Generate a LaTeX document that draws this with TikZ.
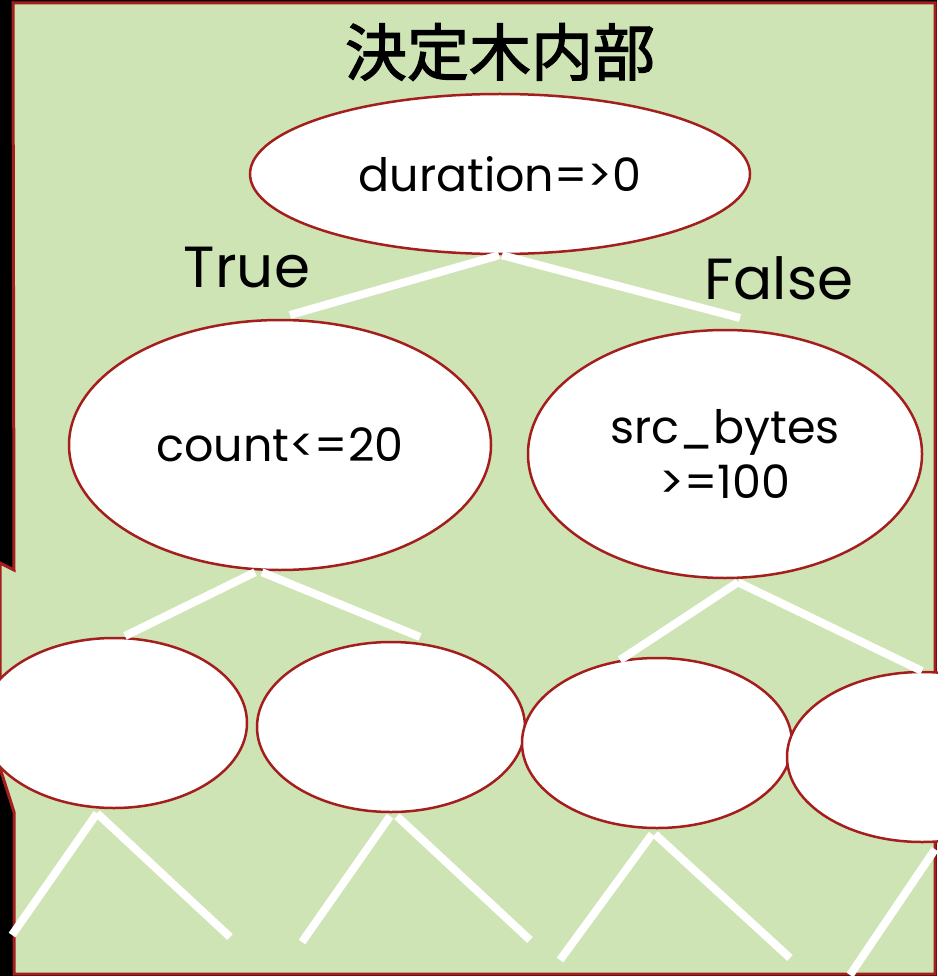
\documentclass[tikz,border=0pt]{standalone}
\usepackage{fontspec}
\setmainfont{Poppins}
\newfontfamily\cjk[BoldFont={Noto Sans CJK JP},BoldFeatures={FakeBold=2}]{Noto Sans CJK JP}
\usetikzlibrary{shapes.geometric}
\definecolor{bggreen}{RGB}{206,228,181}
\definecolor{brdred}{RGB}{165,30,30}
\tikzset{
  oval/.style={ellipse,draw=brdred,line width=2.5pt,fill=white,inner sep=0pt,font=\fontsize{46}{55}\selectfont},
  branch/.style={draw=white,line width=8pt},
  lbl/.style={inner sep=0pt,font=\fontsize{58}{64}\selectfont}
}
\begin{document}
\begin{tikzpicture}[x=1pt,y=-1pt]
\useasboundingbox (0,0) rectangle (937,976);
\fill[black] (0,0) rectangle (937,976);
\draw[brdred,line width=3pt,fill=bggreen] (13,3) -- (935,3) -- (935,974) -- (14,974) -- (14,812) -- (0,768) -- (0,563) -- (14,570) -- cycle;

\node[inner sep=0pt,font=\cjk\bfseries\fontsize{62}{66}\selectfont] (title) at (500,52) {決定木内部};

% free ends
\coordinate (e1) at (290,315);
\coordinate (e2) at (740,318);
\coordinate (e3) at (125,636);
\coordinate (e4) at (420,637);
\coordinate (e5) at (620,660);
\coordinate (e6) at (922,671);
\coordinate (e7) at (12,935);
\coordinate (e8) at (230,937);
\coordinate (e9) at (302,942);
\coordinate (e10) at (530,940);
\coordinate (e11) at (560,960);
\coordinate (e12) at (790,958);
\coordinate (e13) at (850,975);

\node[oval,minimum width=500pt,minimum height=160pt] (root) at (500,174) {duration=>0};
\node[oval,minimum width=422pt,minimum height=250pt] (cnt) at (280,445) {count<=20};
\node[oval,minimum width=394pt,minimum height=248pt,align=center] (src) at (725,454) {src\_bytes\\>=100};
\node[oval,minimum width=266pt,minimum height=170pt] (a) at (114,723) {};
\node[oval,minimum width=268pt,minimum height=170pt] (b) at (391,727) {};
\node[oval,minimum width=270pt,minimum height=170pt] (c) at (657,743) {};
\node[oval,minimum width=270pt,minimum height=170pt] (d) at (922,757) {};

\draw[branch] ([xshift=-1pt]root.south) -- (e1);
\draw[branch] ([xshift=2pt]root.south) -- (e2);
\draw[branch] ([xshift=-25pt,yshift=-1pt]cnt.south) -- (e3);
\draw[branch] ([xshift=-18pt,yshift=-1pt]cnt.south) -- (e4);
\draw[branch] ([xshift=13pt,yshift=-3pt]src.south) -- (e5);
\draw[branch] ([xshift=13pt,yshift=-3pt]src.south) -- (e6);
\draw[branch] ([xshift=-17pt,yshift=-4pt]a.south) -- (e7);
\draw[branch] ([xshift=-17pt,yshift=-4pt]a.south) -- (e8);
\draw[branch] ([xshift=-1pt,yshift=-3pt]b.south) -- (e9);
\draw[branch] ([xshift=6pt,yshift=-3pt]b.south) -- (e10);
\draw[branch] ([xshift=-5pt,yshift=-5pt]c.south) -- (e11);
\draw[branch] ([xshift=-2pt,yshift=-5pt]c.south) -- (e12);
\draw[branch] ([xshift=13pt,yshift=-6pt]d.south) -- (e13);

\node[lbl] (true) at (247,268) {True};
\node[lbl] (false) at (779,278) {False};
\end{tikzpicture}
\end{document}
